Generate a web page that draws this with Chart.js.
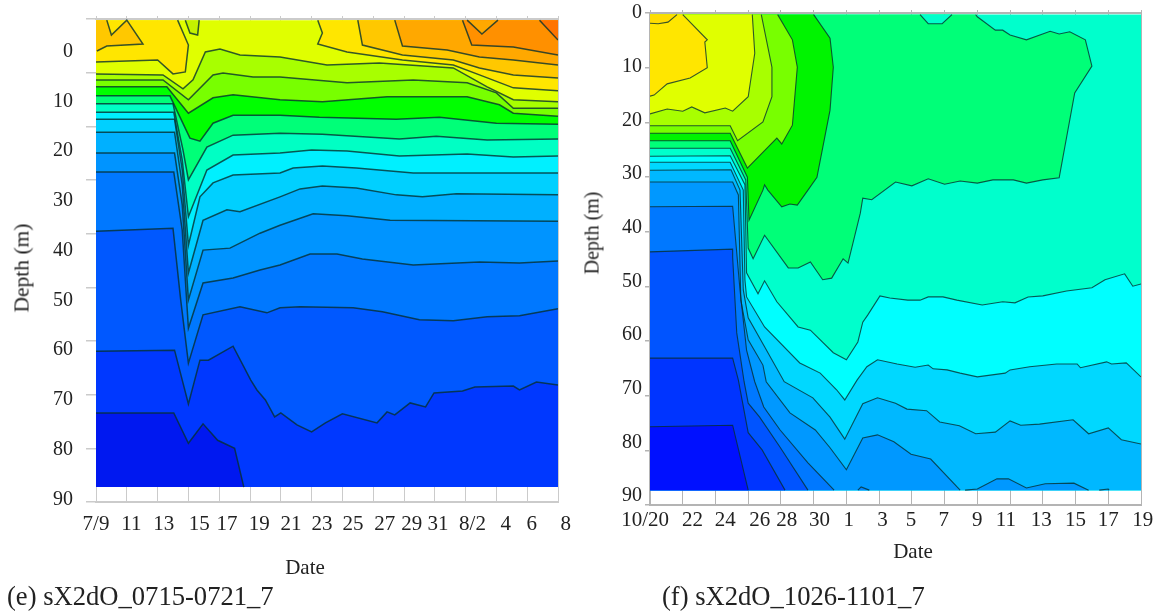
<!DOCTYPE html>
<html><head><meta charset="utf-8">
<script src="https://cdn.jsdelivr.net/npm/chart.js@4"></script>
<style>
html,body{margin:0;padding:0;background:#fff;width:1158px;height:613px;overflow:hidden}
canvas{position:absolute;top:0;filter:blur(0.45px)}
.t{position:absolute;font-family:"Liberation Serif",serif;color:#222;white-space:nowrap;transform:translate(-50%,-50%)}
.c{position:absolute;font-family:"Liberation Serif",serif;color:#222;white-space:nowrap;font-size:26.6px;line-height:30px}
</style></head><body>
<canvas id="e" width="580" height="613" style="left:0;width:580px;height:613px"></canvas>
<canvas id="f" width="578" height="613" style="left:580px;width:578px;height:613px"></canvas>
<div class="t" style="left:305px;top:567px;font-size:21px">Date</div>
<div class="t" style="left:913px;top:551px;font-size:21px">Date</div>
<div class="t" style="left:22px;top:268px;font-size:21.5px;transform:translate(-50%,-50%) rotate(-90deg)">Depth (m)</div>
<div class="t" style="left:592px;top:233px;font-size:20px;transform:translate(-50%,-50%) rotate(-90deg)">Depth (m)</div>
<div class="c" style="left:7px;top:581px">(e) sX2dO_0715-0721_7</div>
<div class="c" style="left:662px;top:581px">(f) sX2dO_1026-1101_7</div>
<script>
const leftDates=['7/9','11','13','15','17','19','21','23','25','27','29','31','8/2','4','6','8'];
const rightDates=['10/20','22','24','26','28','30','1','3','5','7','9','11','13','15','17','19'];
const depthTicks=[0,10,20,30,40,50,60,70,80,90];
/* where each date label sits along the day axis: the original labels are unevenly spaced */
const leftLabelDays=[0,2.3,4.4,6.7,8.5,10.6,12.66,14.68,16.69,18.75,20.5,22.2,24.45,26.6,28.3,30.5];
const rightLabelDays=[-0.3,2.6,4.6,6.7,8.35,10.35,12.15,14.2,15.95,17.95,20,21.75,23.9,26,28,30.1];

/* panel (e): surface and depth of each contour, [day offset, depth] */
const eTop=-6, eBot=87.8;
const eGoldL=[[0.7,-6],[1,-3],[2,-6],[3.05,-1.2],[0.7,-0.8],[0.06,0.2],[0,0.2]];
const eYellowL=[[0,2.4],[4,2],[5,4.8],[5.8,4.4],[6,-1],[5.3,-6]];
const eSpot=[[5.8,-6],[6.1,-3.4],[6.6,-3],[6.7,-6]];
const eYellowR=[[14.4,-6],[14.7,-3.4],[14.4,-1.2],[16.3,0.4],[19.9,2],[23.2,3],[24.9,5],[27.1,7.6],[30,8.2]];
const eGoldR=[[17,-6],[17.3,-1],[19.9,1],[23.2,2],[24.9,3.6],[27.1,5],[30,5.6]];
const eOrange=[[19.4,-6],[19.9,-0.8],[22.8,0],[24.9,1.4],[27.1,2],[30,3]];
const eDeepOrange=[[23.8,-6],[24.4,-1],[27.1,-0.6],[30,1]];
const eNotch=[[24.1,-6],[25.06,-3.2],[26.1,-6]];
const eCorner=[[28.8,-6],[30,-2]];
const e01=[[0,4.8],[4.35,5],[5.65,7.8],[6.3,6],[7.1,0.4],[8.05,-0.2],[9.35,1],[11.95,1.4],[15,3],[18.4,2.6],[23.2,3.6],[25.4,7.4],[27.1,10],[30,10.4]];
const e02=[[0,6],[4.35,6],[6,10],[7.6,5],[8.25,4.6],[10.2,5.4],[11.95,5.4],[16.3,6.6],[20.6,6],[24.1,6.6],[26,8.6],[27.1,11.7],[30,11.7]];
const e03=[[0,7.4],[4.6,7.4],[6,12.7],[7.6,9.6],[8.9,9],[11.95,10],[14.7,10.4],[18.9,9.4],[24.1,9.4],[26.2,11],[27.1,12.7],[30,13.3]];
const e04=[[0,9.2],[4.8,9.2],[6.1,17.7],[6.75,18.3],[7.6,14.7],[8.9,13.1],[11.95,13.1],[14.5,13.5],[19.5,13.9],[22.3,13.5],[26,14.7],[30,14.9]];
const e05=[[0,10.8],[5,10.8],[5.65,20.1],[6,26.1],[7.2,19.5],[8.9,17.1],[11.95,16.7],[14.7,16.9],[19.7,17.9],[22.1,17.3],[25.4,18.1],[30,17.9]];
const e06=[[0,12.5],[5.05,12.5],[5.6,22.1],[6,33.5],[7.2,24.1],[8.9,21.1],[11.95,20.7],[14,20.1],[16.3,20.3],[19.7,21.3],[24.1,20.9],[27.1,21.5],[30,21.3]];
const e07=[[0,13.9],[5.1,13.9],[5.6,24.1],[6,39.2],[6.75,29.5],[7.6,26.7],[8.9,25.1],[11.95,24.7],[12.8,23.7],[14.7,23.3],[16.9,23.7],[20.6,24.7],[30,24.7]];
const e08=[[0,16.5],[5.1,16.5],[5.6,27.1],[6,44.8],[6.95,34.2],[8.5,32.1],[9.35,32.5],[11.95,29.5],[13.25,27.9],[14.7,27.3],[16.9,27.7],[19.5,29.1],[21.2,29.5],[23.4,28.9],[30,29.1]];
const e09=[[0,20.7],[5.1,20.7],[5.6,31.1],[6,50.2],[6.95,40.2],[8.7,39.8],[10.65,36.8],[11.95,35.2],[14.1,32.9],[16.3,33.3],[19.1,34.2],[30,34.4]];
const e10=[[0,24.5],[5.05,24.5],[5.6,36.2],[6,55.9],[6.95,46.8],[8.9,45.8],[10.65,44.2],[11.95,43.2],[13.9,41],[15.65,41],[17.3,42],[20.6,43.2],[24.9,42.6],[27.5,42.8],[30,42.4]];
const e11=[[0,36.4],[5,35.8],[5.5,50.2],[6,62.9],[6.95,53.2],[9.35,51.6],[11.1,52.8],[11.95,51.8],[13.25,51.6],[16.7,51.8],[18.6,52.6],[21,54.2],[23.2,54.4],[25.4,53.6],[27.5,53.4],[30,52]];
const e12=[[0,60.5],[5.1,60.3],[6,71.1],[6.75,62.3],[7.3,62.3],[8.9,59.5],[10.05,66.3],[10.45,68.3],[11,70.3],[11.6,73.7],[12,72.9],[13.05,75.3],[14,76.7],[14.9,74.9],[16,73.1],[18.25,74.9],[18.9,72.7],[19.4,73.3],[20.4,70.9],[21.4,71.7],[21.95,68.9],[23.8,68.5],[24.6,67.7],[27.1,67.5],[27.5,68.3],[28.6,66.7],[30,67.3]];
const e13=[[0,72.9],[5.05,72.9],[6,79],[6.95,75.1],[7.9,78.4],[9,80],[9.6,87.8]];

/* panel (f) */
const fTop=0.3, fBot=88.9;
const fGreen=[[0,25.2],[4.9,25.2],[5.85,31.1],[6,43.8],[6.3,45.8],[7,41.4],[8.45,47.5],[9.05,47.5],[9.8,46.4],[10.55,49.7],[11.1,49.4],[11.8,45.8],[12.1,46.6],[12.85,37.3],[13,34.5],[13.55,34.8],[15,31.5],[16,32.2],[17,30.9],[18,31.9],[18.95,31.3],[20,31.7],[20.95,31.1],[22.2,31.1],[23,31.7],[24,31.1],[25,30.7],[25.95,14.9],[27,9.9],[26.6,5],[25.65,3.5],[25,3.9],[24.45,3.4],[23,5],[22,4.1],[21.55,3.2],[21.1,3.2],[20,0.7],[19.9,0.3]];
const fNotch=[[16.5,0.3],[17,2],[17.85,2],[18.45,0.3]];
const fPure=[[0,23.8],[4.9,23.8],[5.95,30.6],[6.05,38.6],[6.9,33],[7,32],[7.2,33],[8.05,36.1],[8.55,35.6],[9,35.8],[9.65,33],[10.2,30.6],[11,18.1],[11.2,10.1],[11,4.7],[10,0.3]];
const fLime=[[0,22.4],[4.9,22.4],[5.95,28.9],[7.75,23.3],[8.05,24.4],[8.7,20.9],[9,10.1],[8.7,5],[7.8,0.3]];
const fChart=[[0,21],[4.9,21],[5.35,23.8],[6.9,20.3],[7.45,15.6],[7.45,10.1],[6.8,0.3]];
const fPale=[[0,18.8],[1.05,17.9],[2,18.3],[2.55,17.5],[3.35,18.6],[4.6,17.7],[5.05,18.3],[6,15.6],[6.4,7.5],[6.25,0.3]];
const fYellow=[[0,15.5],[0.25,15.3],[1.05,13.2],[2.45,12.1],[3.5,10.2],[3.35,5.4],[3.5,5],[2,0.3]];
const fPatch=[[0,1.9],[0.5,2],[1.1,1.7],[1.65,0.3]];
const fB1=[[0,26.7],[4.9,26.6],[5.8,32],[5.9,48.4],[6.6,52.3],[7,49.9],[7.75,53.8],[9.05,58.5],[9.8,59.1],[11.2,63.3],[12,64.6],[12.7,61.3],[13,57.6],[13.3,56.3],[14.05,52.7],[14.65,53.1],[15.75,53.5],[16.5,53.5],[17,52.9],[17.9,52.9],[18.75,53.5],[20.3,54.4],[21.55,53.8],[22.3,54],[23.1,52.9],[24,52.7],[25.45,51.8],[27,51.2],[27.8,49.7],[29,48.6],[29.5,50.9],[30,50.5]];
const fB2=[[0,27.8],[4.9,27.8],[5.7,33],[5.8,49.7],[5.9,52.9],[7,58.5],[9.15,65.2],[10.4,67.1],[11.4,70.2],[11.9,72.1],[12.65,68.4],[13.25,65.9],[13.9,64.6],[15.1,65.4],[16.2,66],[17,65.6],[17.3,66.3],[18.15,66.5],[18.95,67.1],[20,67.8],[21.7,67.1],[22,66.5],[23.2,65.9],[24.85,65.4],[26.1,65.4],[26.3,66.1],[27.9,65],[28.2,65.4],[29.1,65.2],[30,67.8]];
const fB3=[[0,29.3],[4.95,29.2],[5.5,33],[5.7,51.6],[6,56.8],[7,62.2],[8.2,68.7],[9.95,71.7],[11,75.3],[11.9,79.4],[13,72.8],[13.9,71.7],[15,72.7],[15.7,73.8],[16.9,74.1],[17.7,76.2],[18.9,76.9],[19.9,78.4],[21.1,78.1],[22,76],[22.65,76.8],[23.8,76.6],[25.85,75.8],[26.8,78.4],[28,77.3],[28.8,79.5],[30,80.3]];
const fB4=[[0,31.5],[5.05,31.5],[5.4,33.9],[5.55,53.5],[6,60.9],[6.9,65.6],[7.1,68.7],[8.55,74.5],[10.1,77.7],[11,81],[12,85.1],[13,79.2],[13.9,78.6],[14.9,79.9],[15.95,82.2],[17.15,83.1],[18.95,88.9]];
const fBump1=[[19.25,88.9],[20,88.7],[21.2,86.8],[21.9,86.8],[23,88.5],[24.15,87.7],[25.9,87.6],[26.8,88.9]];
const fBump2=[[27.45,88.9],[28,88.7],[28.05,88.9]];
const fBump3=[[12.7,88.9],[12.9,88.3],[13.4,88.9]];
const fB5=[[0,36.1],[5.05,36],[5.5,51.6],[5.9,62.8],[6.4,68.7],[6.95,73.4],[7.95,77.7],[9.65,83.8],[11.25,88.9]];
const fB6=[[0,44.5],[5.05,44],[5.05,45.5],[5.3,59.6],[5.75,68.7],[6,72.7],[6.7,75.3],[7.95,80.9],[9.65,88.9]];
const fB7=[[0,64.3],[5.05,64.3],[5.4,68.4],[6,78.2],[6.85,81.4],[8.25,88.9]];
const fB8=[[0,77.1],[5.05,76.8],[6,88.9]];

function L(line,color,close){return {line,color,close};}
const eTL=[[0,eTop]],eTR=[[30,eTop]],eB=[[30,eBot],[0,eBot]],eB0=[[0,eBot]];
const eLayers=[
 L(null,'#e0ff00',[[0,eTop],[30,eTop],[30,eBot],[0,eBot]]),
 L(eYellowL,'#ffe600',eTL),L(eGoldL,'#ffc800',eTL),L(eSpot,'#c4f200',[]),
 L(eYellowR,'#ffe600',eTR),L(eGoldR,'#ffc800',eTR),L(eOrange,'#ffa800',eTR),L(eDeepOrange,'#ff9000',eTR),
 L(eNotch,'#ffa800',[]),L(eCorner,'#ff7400',eTR),
 L(e01,'#a8ff00',eB),L(e02,'#78ff00',eB),L(e03,'#00ff00',eB),L(e04,'#00ff78',eB),L(e05,'#00ffc4',eB),
 L(e06,'#00f0ff',eB),L(e07,'#00d0ff',eB),L(e08,'#00b0ff',eB),L(e09,'#0094ff',eB),L(e10,'#0078ff',eB),
 L(e11,'#0058ff',eB),L(e12,'#0038ff',eB),L(e13,'#0018f0',eB0)];
const fT=[[0,fTop]],fB=[[30,fBot],[0,fBot]],fB0=[[0,fBot]];
const fLayers=[
 L(null,'#00ffcc',[[0,fTop],[30,fTop],[30,fBot],[0,fBot]]),
 L(fGreen,'#00ff78',fT),L(fNotch,'#00ffcc',[]),L(fPure,'#00f400',fT),L(fLime,'#78ff00',fT),L(fChart,'#a8ff00',fT),
 L(fPale,'#e0ff00',fT),L(fYellow,'#ffe600',fT),L(fPatch,'#ffdc00',fT),
 L(fB1,'#00ffff',fB),L(fB2,'#00d8ff',fB),L(fB3,'#00b8ff',fB),L(fB4,'#0098ff',fB0),
 L(fBump1,'#0098ff',[]),L(fBump2,'#0098ff',[]),L(fBump3,'#0084ff',[]),
 L(fB5,'#0078ff',fB0),L(fB6,'#0054ff',fB0),L(fB7,'#0034ff',fB0),L(fB8,'#0010ff',fB0)];

const pts=a=>a.map(([x,y])=>({x,y}));
function datasets(layers,lw){
  const out=[];
  layers.forEach((l,i)=>{
    out.push({data:pts((l.line||[]).concat(l.close)),fill:'shape',backgroundColor:l.color,borderWidth:0,pointRadius:0,order:2000-i,xAxisID:'x',yAxisID:'y'});
    if(l.line)out.push({data:pts(l.line),fill:false,borderColor:'rgba(6,48,48,0.8)',borderWidth:lw,pointRadius:0,order:1000-i,xAxisID:'x',yAxisID:'y'});
  });
  return out;
}
const FONT='"Liberation Serif",serif';
function build(id,o){
  new Chart(document.getElementById(id),{type:'line',
   data:{datasets:datasets(o.layers,o.lw)},
   options:{responsive:false,animation:false,events:[],
    layout:{padding:{top:o.top,right:o.right,left:0,bottom:0}},
    plugins:{legend:{display:false},tooltip:{enabled:false},title:{display:false}},
    elements:{line:{tension:0}},
    scales:{
     x:{type:'linear',position:'bottom',weight:1,min:0,max:30,
        afterFit:s=>{s.height=0;},
        border:{color:o.gray,width:o.bw},
        grid:{color:o.gray,drawTicks:false,drawOnChartArea:true,lineWidth:1},
        ticks:{display:false,stepSize:2}},
     xl:{type:'linear',position:'bottom',weight:2,min:0,max:30,
        afterBuildTicks:s=>{s.ticks=o.labelDays.map(value=>({value}));},
        afterFit:s=>{s.height=613-o.bottom;s.paddingLeft=0;s.paddingRight=0;},
        border:{display:false},grid:{display:false,drawTicks:false},
        ticks:{autoSkip:false,maxRotation:0,minRotation:0,padding:o.xPad,color:'#222',font:{family:FONT,size:21},
               callback:(v,i)=>o.dates[i]}},
     xt:{type:'linear',position:'top',min:0,max:30,
        afterFit:s=>{s.height=0;},
        border:{color:o.gray,width:2},
        grid:{color:o.gray,drawOnChartArea:false,drawTicks:true,tickLength:3},
        ticks:{display:false,stepSize:2}},
     y:{type:'linear',position:'left',reverse:true,weight:2,min:o.yMin,max:o.yMax,
        afterBuildTicks:s=>{s.ticks=depthTicks.map(value=>({value}));},
        afterFit:s=>{s.width=o.left-o.tl;s.paddingTop=0;s.paddingBottom=0;},
        border:{display:false},grid:{display:false,drawTicks:false},
        ticks:{padding:o.yPad,labelOffset:o.yOff,autoSkip:false,color:'#222',font:{family:FONT,size:o.yFont}}},
     yt:{type:'linear',position:'left',reverse:true,weight:1,min:0,max:90,
        afterFit:s=>{s.width=o.tl;s.paddingTop=0;s.paddingBottom=0;},
        border:{display:o.yBorder,color:o.gray,width:2},
        grid:{color:o.gray,drawOnChartArea:false,drawTicks:true,tickLength:o.tl,lineWidth:1.5},
        ticks:{display:false,stepSize:10}}
    }}});
}
build('e',{layers:eLayers,dates:leftDates,labelDays:leftLabelDays,top:19,right:22,bottom:502,left:96,tl:10,gray:'#cbcbcb',bw:2,lw:1.5,
  xPad:10,yMin:-6.23,yMax:90.8,yPad:13,yOff:1.5,yFont:20,yBorder:false});
build('f',{layers:fLayers,dates:rightDates,labelDays:rightLabelDays,top:13,right:17,bottom:505,left:70,tl:5,gray:'#b4b4b4',bw:2,lw:1.1,
  xPad:3,yMin:0,yMax:91.67,yPad:3,yOff:0,yFont:20,yBorder:true});
</script>
</body></html>
